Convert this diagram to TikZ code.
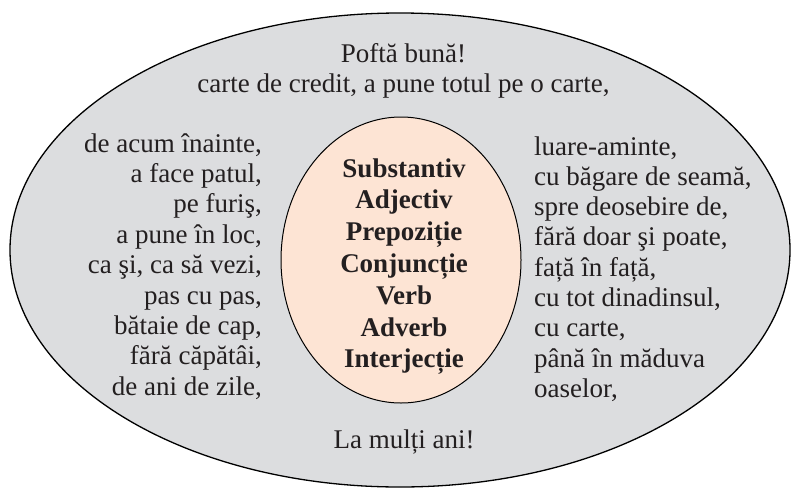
\documentclass[tikz,border=0pt]{standalone}
\usepackage{fontspec}
\setmainfont{Liberation Serif}
\usetikzlibrary{shapes.geometric}
\definecolor{ovalgrey}{RGB}{220,221,223}
\definecolor{peach}{RGB}{253,228,212}
\definecolor{inkdark}{RGB}{35,31,32}

\begin{document}
\begin{tikzpicture}[x=1pt, y=-1pt,
    oval/.style={ellipse, draw=black, line width=1.3pt, inner sep=0pt},
    phrase/.style={font=\fontsize{27}{30}\selectfont, text=inkdark, inner sep=0pt},
    part/.style={phrase, font=\fontsize{27}{30}\selectfont\bfseries, anchor=base}
]
    \useasboundingbox (0,0) rectangle (792,490);
    \node[oval, fill=ovalgrey, minimum width=780, minimum height=474] (outer) at (400,250) {};
    \node[oval, line width=1pt, fill=peach, minimum width=240, minimum height=286] (inner) at (401,260) {};
    % top and bottom
    \node[phrase, anchor=base] (greet) at (403.5,62) {Poftă bună!};
    \node[phrase, anchor=base] (card) at (403.5,92) {carte de credit, a pune totul pe o carte,};
    \node[phrase, anchor=base] (wish) at (404,448) {La mulți ani!};
    % left column
    \foreach \txt [count=\i] in {{de acum înainte,}, {a face patul,}, {pe furiş,},
        {a pune în loc,}, {ca şi, ca să vezi,}, {pas cu pas,}, {bătaie de cap,},
        {fără căpătâi,}, {de ani de zile,}}
        \node[phrase, anchor=base east] (left\i) at (262,{152+30.4*(\i-1)}) {\txt};
    % right column
    \foreach \txt [count=\i] in {{luare-aminte,}, {cu băgare de seamă,}, {spre deosebire de,},
        {fără doar şi poate,}, {față în față,}, {cu tot dinadinsul,}, {cu carte,},
        {până în măduva}, {oaselor,}}
        \node[phrase, anchor=base west] (right\i) at (534,{155+30.3*(\i-1)}) {\txt};
    % parts of speech
    \foreach \txt [count=\i] in {Substantiv, Adjectiv, Prepoziție, Conjuncție,
        Verb, Adverb, Interjecție}
        \node[part] (pos\i) at (404,{177+31.8*(\i-1)}) {\txt};
\end{tikzpicture}
\end{document}
